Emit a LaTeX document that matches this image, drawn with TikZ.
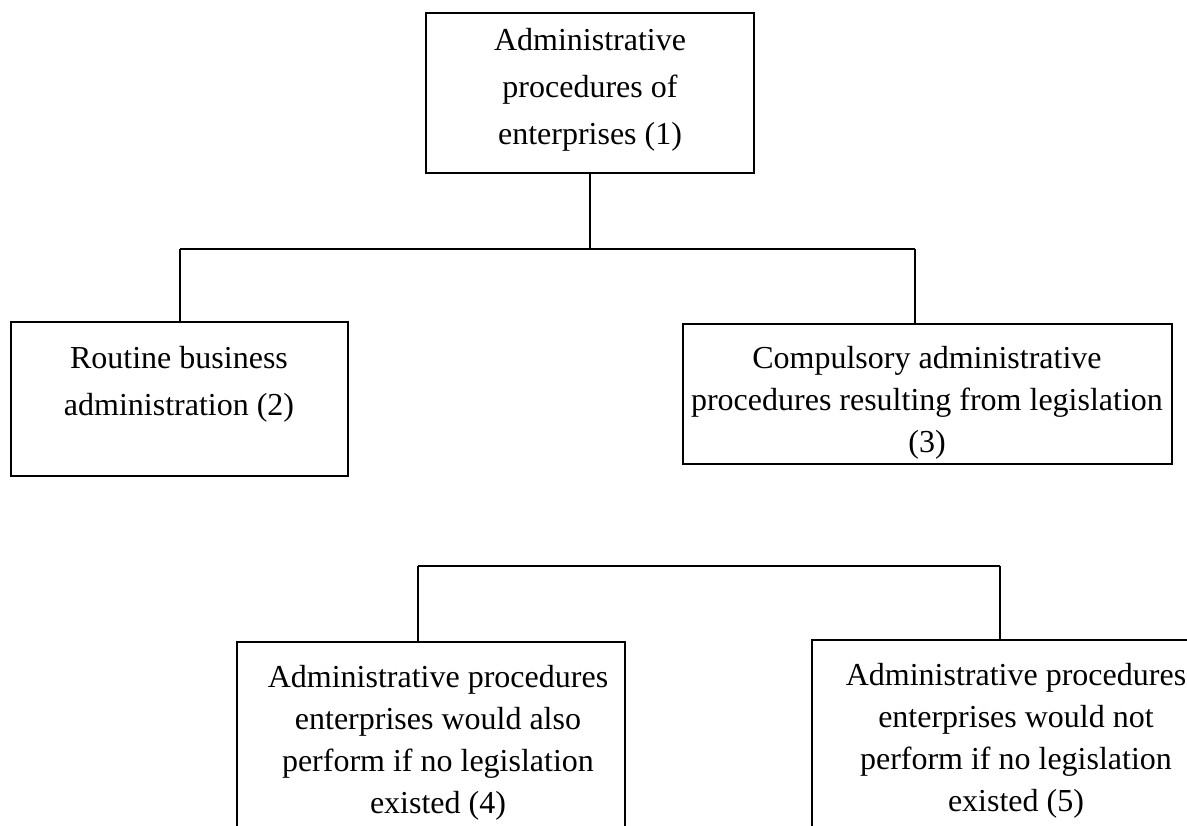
\documentclass[tikz,border=0pt]{standalone}
\usepackage{fontspec}
\setmainfont{Liberation Serif}
\begin{document}
\begin{tikzpicture}[x=1pt,y=-1pt,
  box/.style={draw, rectangle, inner sep=0pt, line width=1.6pt},
  lbl/.style={align=center, inner sep=0pt, anchor=north},
  conn/.style={line width=1.6pt}]
\useasboundingbox (0,0) rectangle (1187,826);
\clip (0,0) rectangle (1187,826);
% boxes
\node[box, minimum width=328pt, minimum height=160pt] (b1) at (590,93) {};
\node[box, minimum width=337pt, minimum height=154pt] (b2) at (179.5,399) {};
\node[box, minimum width=489pt, minimum height=140pt] (b3) at (927.5,394) {};
\node[box, minimum width=388pt, minimum height=258pt] (b4) at (431,771) {};
\node[box, minimum width=408pt, minimum height=260pt] (b5) at (1016,770) {};
% texts (north = first baseline - 0.7 baselineskip)
\node[lbl, font=\fontsize{32}{47}\selectfont] (t1) at (590,17.1) {\strut Administrative\\procedures of\\enterprises (1)};
\node[lbl, font=\fontsize{32}{47}\selectfont] (t2) at (179,335.1) {\strut Routine business\\administration (2)};
\node[lbl, font=\fontsize{32}{42}\selectfont] (t3) at (927,338.6) {\strut Compulsory administrative\\procedures resulting from legislation\\(3)};
\node[lbl, font=\fontsize{32}{42}\selectfont] (t4) at (438,657.6) {\strut Administrative procedures\\enterprises would also\\perform if no legislation\\existed (4)};
\node[lbl, font=\fontsize{32}{42}\selectfont] (t5) at (1016,655.6) {\strut Administrative procedures\\enterprises would not\\perform if no legislation\\existed (5)};
% connectors
\coordinate (j1) at (590,249);
\coordinate (j1L) at (180,249);
\coordinate (j1R) at (915,249);
\draw[conn] (b1.south) -- (j1);
\draw[conn] (j1L) -- (j1R);
\draw[conn] (j1L) -- (j1L |- b2.north);
\draw[conn] (j1R) -- (j1R |- b3.north);
\coordinate (j2L) at (418,566);
\coordinate (j2R) at (1000,566);
\draw[conn] (j2L) -- (j2R);
\draw[conn] (j2L) -- (j2L |- b4.north);
\draw[conn] (j2R) -- (j2R |- b5.north);
\end{tikzpicture}
\end{document}
